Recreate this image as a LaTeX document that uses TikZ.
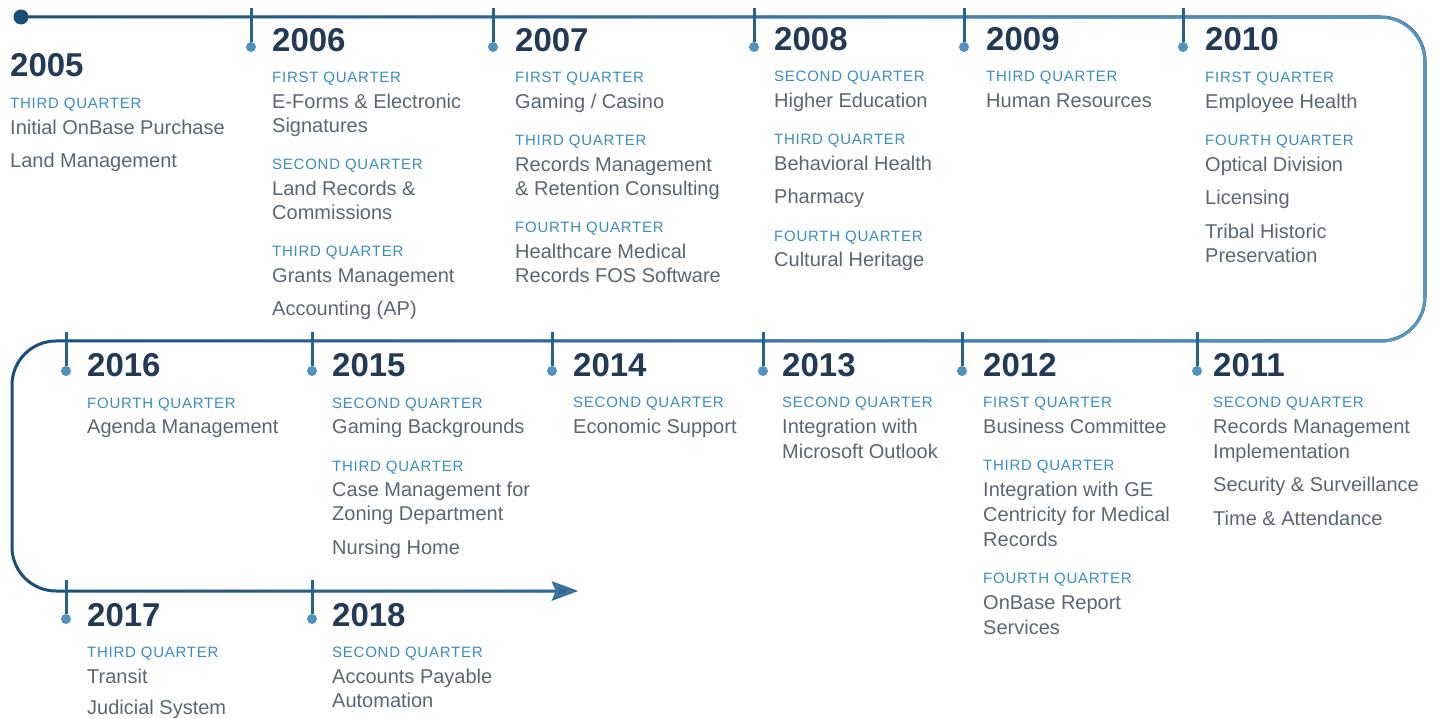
\documentclass[tikz,border=0pt]{standalone}
\usepackage{fontspec}
\setmainfont{Liberation Sans}
\newfontfamily\qfont[LetterSpace=5]{Liberation Sans}
\usetikzlibrary{arrows.meta,fadings}

\definecolor{lineDark}{HTML}{1B4E77}
\definecolor{lineLight}{HTML}{5A97C2}
\definecolor{tickBlue}{HTML}{28618C}
\definecolor{dotBlue}{HTML}{4E92BD}
\definecolor{yearNavy}{HTML}{233A56}
\definecolor{qBlue}{HTML}{3A8DC0}
\definecolor{itemGray}{HTML}{5B6573}

% quarter heading, with its own line break
\newcommand{\qtr}[1]{{\qfont\fontsize{15}{18}\selectfont\color{qBlue}#1}\\[1.5pt]}
\newcommand{\yeartick}[3]{%
	\coordinate (#1-top) at (#2,#3);
	\node[dot] (#1-dot) at (#2,#3+39) {};
	\draw[tick] (#1-top) -- (#1-dot);}

\tikzset{
	year/.style={anchor=west, inner sep=0pt, text=yearNavy, font=\fontsize{33}{36}\selectfont\bfseries},
	body/.style={anchor=north west, inner sep=0pt, align=left, text=itemGray, font=\fontsize{20}{24}\selectfont},
	tick/.style={tickBlue, line width=3pt},
	dot/.style={circle, fill=dotBlue, inner sep=0pt, minimum size=10pt},
	road/.style={line width=3pt, rounded corners=44pt, -{Stealth[length=26pt,width=19pt,inset=4pt]}},
}

\begin{document}
\begin{tikzpicture}[x=1pt, y=-1pt]
	\useasboundingbox (0,0) rectangle (1444,719);

	\node[circle, fill=lineDark, inner sep=0pt, minimum size=15pt] (start) at (21,17) {};
	\coordinate (end) at (578,591);

	% the road, dark on the left and lighter to the right
	\draw[road, lineDark] (start.center) -- (1425,17) -- (1425,341) -- (12,341) -- (12,591) -- (end);
	\draw[road, lineLight, path fading=west] (start.center) -- (1425,17) -- (1425,341) -- (12,341) -- (12,591) -- (end);

	\yeartick{y2006}{251}{8}
	\yeartick{y2007}{493}{8}
	\yeartick{y2008}{754}{8}
	\yeartick{y2009}{964}{8}
	\yeartick{y2010}{1183}{8}

	\yeartick{y2016}{66}{332}
	\yeartick{y2015}{312}{332}
	\yeartick{y2014}{552}{332}
	\yeartick{y2013}{763}{332}
	\yeartick{y2012}{962}{332}
	\yeartick{y2011}{1197}{332}

	\yeartick{y2017}{66}{580}
	\yeartick{y2018}{312}{580}

	% first row
	\node[year] (t2005) at (10,65) {2005};
	\node[body] (b2005) at (10,98) {\qtr{THIRD QUARTER} Initial OnBase Purchase\\[9.5pt] Land Management};

	\node[year] (t2006) at (272,40) {2006};
	\node[body] (b2006) at (272,72) {\qtr{FIRST QUARTER} E-Forms \& Electronic\\ Signatures\\[13.5pt]
		\qtr{SECOND QUARTER} Land Records \&\\ Commissions\\[13.5pt]
		\qtr{THIRD QUARTER} Grants Management\\[9.5pt] Accounting (AP)};

	\node[year] (t2007) at (515,40) {2007};
	\node[body] (b2007) at (515,72) {\qtr{FIRST QUARTER} Gaming / Casino\\[13.5pt]
		\qtr{THIRD QUARTER} Records Management\\ \& Retention Consulting\\[13.5pt]
		\qtr{FOURTH QUARTER} Healthcare Medical\\ Records FOS Software};

	\node[year] (t2008) at (774,39) {2008};
	\node[body] (b2008) at (774,71) {\qtr{SECOND QUARTER} Higher Education\\[13.5pt]
		\qtr{THIRD QUARTER} Behavioral Health\\[9.5pt] Pharmacy\\[13.5pt]
		\qtr{FOURTH QUARTER} Cultural Heritage};

	\node[year] (t2009) at (986,39) {2009};
	\node[body] (b2009) at (986,71) {\qtr{THIRD QUARTER} Human Resources};

	\node[year] (t2010) at (1205,39) {2010};
	\node[body] (b2010) at (1205,72) {\qtr{FIRST QUARTER} Employee Health\\[13.5pt]
		\qtr{FOURTH QUARTER} Optical Division\\[9.5pt] Licensing\\[9.5pt] Tribal Historic\\ Preservation};

	% second row
	\node[year] (t2016) at (87,365) {2016};
	\node[body] (b2016) at (87,397.5) {\qtr{FOURTH QUARTER} Agenda Management};

	\node[year] (t2015) at (332,365) {2015};
	\node[body] (b2015) at (332,397.5) {\qtr{SECOND QUARTER} Gaming Backgrounds\\[13.5pt]
		\qtr{THIRD QUARTER} Case Management for\\ Zoning Department\\[9.5pt] Nursing Home};

	\node[year] (t2014) at (573,365) {2014};
	\node[body] (b2014) at (573,397) {\qtr{SECOND QUARTER} Economic Support};

	\node[year] (t2013) at (782,365) {2013};
	\node[body] (b2013) at (782,397) {\qtr{SECOND QUARTER} Integration with\\[1pt] Microsoft Outlook};

	\node[year] (t2012) at (983,365) {2012};
	\node[body] (b2012) at (983,397) {\qtr{FIRST QUARTER} Business Committee\\[13.5pt]
		\qtr{THIRD QUARTER} Integration with GE\\[1pt] Centricity for Medical\\[1pt] Records\\[13.5pt]
		\qtr{FOURTH QUARTER} OnBase Report\\[1pt] Services};

	\node[year] (t2011) at (1213,365) {2011};
	\node[body] (b2011) at (1213,397) {\qtr{SECOND QUARTER} Records Management\\[1pt] Implementation\\[9.5pt]
		Security \& Surveillance\\[9.5pt] Time \& Attendance};

	% third row
	\node[year] (t2017) at (87,615) {2017};
	\node[body] (b2017) at (87,647) {\qtr{THIRD QUARTER} Transit\\[7pt] Judicial System};

	\node[year] (t2018) at (332,615) {2018};
	\node[body] (b2018) at (332,647) {\qtr{SECOND QUARTER} Accounts Payable\\ Automation};

\end{tikzpicture}
\end{document}
